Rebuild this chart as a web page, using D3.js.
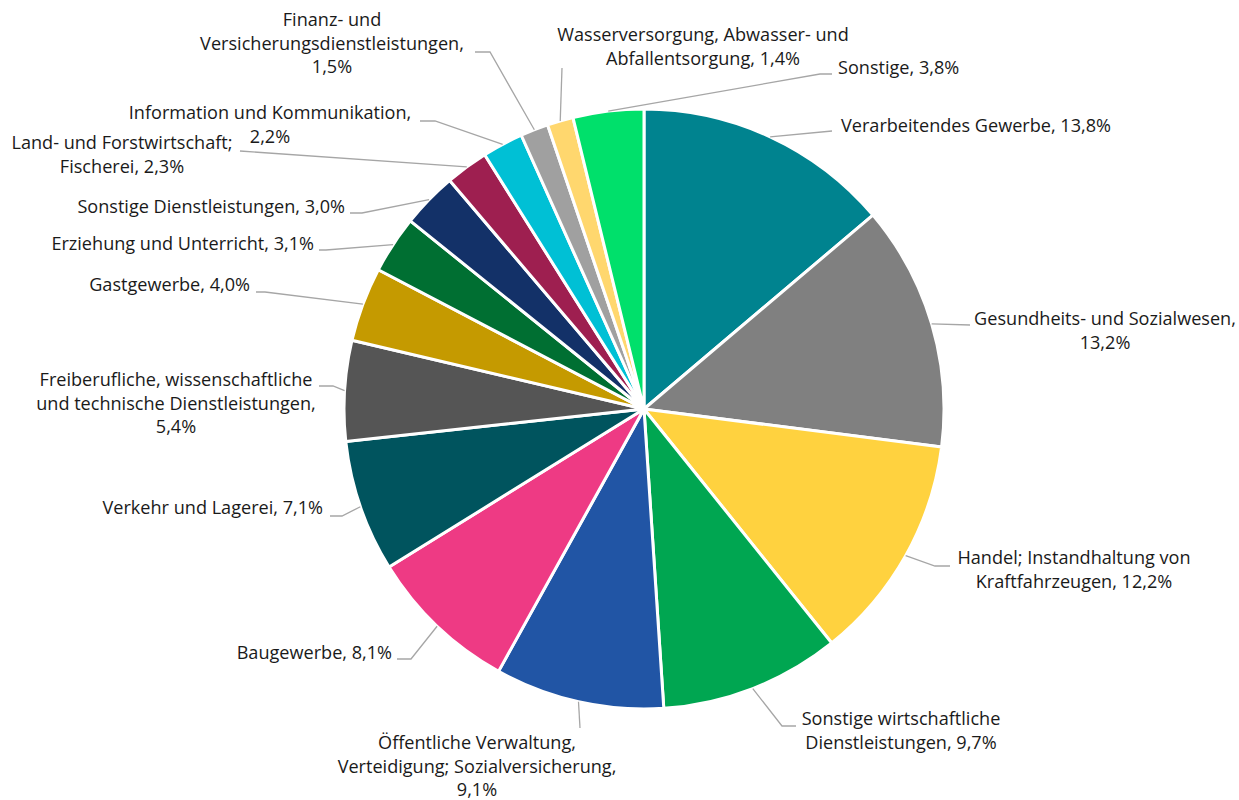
<!DOCTYPE html>
<html><head><meta charset="utf-8">
<script src="https://cdn.jsdelivr.net/npm/d3@7"></script>
<style>
html,body{margin:0;padding:0;background:#fff;}
svg{display:block;}
text{font-family:"Open Sans",Lato,sans-serif;font-size:18.1px;fill:#1a1a1a;}
</style></head><body>
<svg id="chart" width="1239" height="800"></svg>
<script>
// ---- data ----
const categories = [
  "Verarbeitendes Gewerbe",
  "Gesundheits- und Sozialwesen",
  "Handel; Instandhaltung von Kraftfahrzeugen",
  "Sonstige wirtschaftliche Dienstleistungen",
  "Öffentliche Verwaltung, Verteidigung; Sozialversicherung",
  "Baugewerbe",
  "Verkehr und Lagerei",
  "Freiberufliche, wissenschaftliche und technische Dienstleistungen",
  "Gastgewerbe",
  "Erziehung und Unterricht",
  "Sonstige Dienstleistungen",
  "Land- und Forstwirtschaft; Fischerei",
  "Information und Kommunikation",
  "Finanz- und Versicherungsdienstleistungen",
  "Wasserversorgung, Abwasser- und Abfallentsorgung",
  "Sonstige"
];
const values = [13.8, 13.2, 12.2, 9.7, 9.1, 8.1, 7.1, 5.4, 4.0, 3.1, 3.0, 2.3, 2.2, 1.5, 1.4, 3.8];
const labelLines = [
  ["Verarbeitendes Gewerbe, 13,8%"],
  ["Gesundheits- und Sozialwesen,", "13,2%"],
  ["Handel; Instandhaltung von", "Kraftfahrzeugen, 12,2%"],
  ["Sonstige wirtschaftliche", "Dienstleistungen, 9,7%"],
  ["Öffentliche Verwaltung,", "Verteidigung; Sozialversicherung,", "9,1%"],
  ["Baugewerbe, 8,1%"],
  ["Verkehr und Lagerei, 7,1%"],
  ["Freiberufliche, wissenschaftliche", "und technische Dienstleistungen,", "5,4%"],
  ["Gastgewerbe, 4,0%"],
  ["Erziehung und Unterricht, 3,1%"],
  ["Sonstige Dienstleistungen, 3,0%"],
  ["Land- und Forstwirtschaft;", "Fischerei, 2,3%"],
  ["Information und Kommunikation,", "2,2%"],
  ["Finanz- und", "Versicherungsdienstleistungen,", "1,5%"],
  ["Wasserversorgung, Abwasser- und", "Abfallentsorgung, 1,4%"],
  ["Sonstige, 3,8%"]
];
const colors = ["#00838F","#808080","#FFD23F","#00A651","#2155A5","#EE3A84","#00545E","#555555",
                "#C59A00","#006F32","#133168","#9E1F50","#00C0D5","#A0A0A0","#FFD76E","#00E06B"];

// ---- layout (label placement, not data) ----
const labelLayout = [
  {tx:841, ty:126, anchor:"start",  pts:[[832,131]]},
  {tx:1105,ty:319, anchor:"middle", pts:[[970,325]]},
  {tx:1074,ty:558, anchor:"middle", pts:[[935,566],[950,566]]},
  {tx:901, ty:719, anchor:"middle", pts:[[782,726],[796,726]]},
  {tx:477, ty:743, anchor:"middle", pts:[[580,728]]},
  {tx:392, ty:653, anchor:"end",    pts:[[411,659],[397,659]]},
  {tx:323, ty:508, anchor:"end",    pts:[[342,516],[330,516]]},
  {tx:176, ty:380, anchor:"middle", pts:[[333,386],[319,386]]},
  {tx:250, ty:285, anchor:"end",    pts:[[265,292],[256,292]]},
  {tx:314, ty:244, anchor:"end",    pts:[[326,250],[319,250]]},
  {tx:345, ty:207, anchor:"end",    pts:[[362,213],[350,213]]},
  {tx:122, ty:143, anchor:"middle", pts:[[240,151]]},
  {tx:270, ty:113, anchor:"middle", pts:[[435,121],[420,121]]},
  {tx:332, ty:20,  anchor:"middle", pts:[[490,52],[475,52]]},
  {tx:703, ty:35,  anchor:"middle", pts:[[562,68]]},
  {tx:838, ty:68,  anchor:"start",  pts:[[820,74],[832,74]]}
];
const cx = 644, cy = 409, R = 300, lineH = 23.3;

const data = categories.map((c,i)=>({name:c, value:values[i], color:colors[i], lines:labelLines[i], layout:labelLayout[i]}));

const svg = d3.select("#chart");
const g = svg.append("g").attr("transform",`translate(${cx},${cy})`);
const pie = d3.pie().value(d=>d.value).sort(null);
const arc = d3.arc().innerRadius(0).outerRadius(R);
const arcs = pie(data);

g.selectAll("path.slice").data(arcs).join("path")
  .attr("class","slice")
  .attr("d",arc)
  .attr("fill",d=>d.data.color)
  .attr("stroke","#fff")
  .attr("stroke-width",3)
  .attr("stroke-linejoin","round");

const line = d3.line();
svg.selectAll("path.leader").data(arcs).join("path")
  .attr("class","leader")
  .attr("d",d=>{
    const a = (d.startAngle+d.endAngle)/2;
    const start = [cx + R*Math.sin(a), cy - R*Math.cos(a)];
    return line([start, ...d.data.layout.pts]);
  })
  .attr("fill","none")
  .attr("stroke","#A6A6A6")
  .attr("stroke-width",1.3);

const lbl = svg.selectAll("text.lbl").data(arcs).join("text")
  .attr("class","lbl")
  .attr("text-anchor",d=>d.data.layout.anchor)
  .attr("x",d=>d.data.layout.tx)
  .attr("y",d=>d.data.layout.ty);
lbl.selectAll("tspan").data(d=>d.data.lines.map(t=>({t, L:d.data.layout}))).join("tspan")
  .attr("x",d=>d.L.tx)
  .attr("y",(d,i)=>d.L.ty + i*lineH)
  .attr("dy","0.35em")
  .text(d=>d.t);
</script>
</body></html>
